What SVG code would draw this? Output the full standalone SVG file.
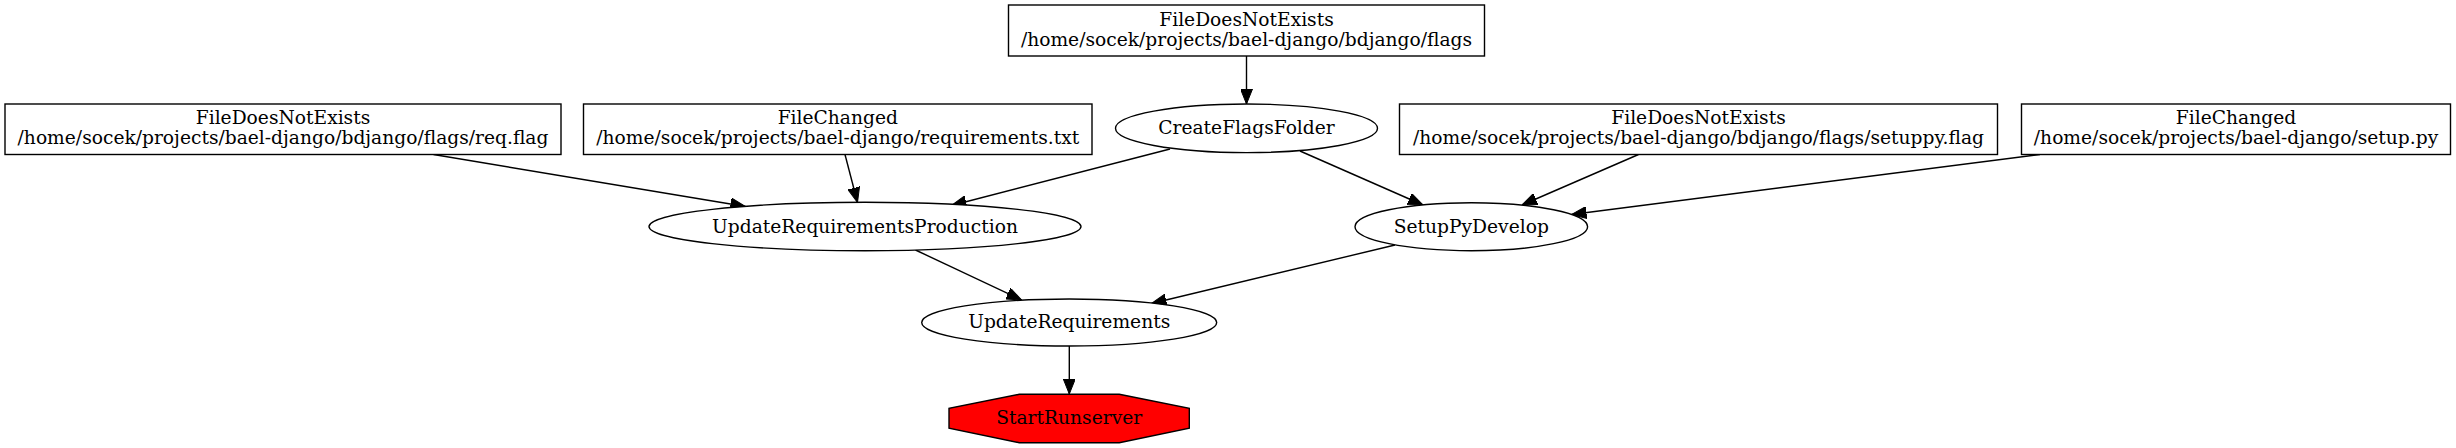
<svg xmlns="http://www.w3.org/2000/svg" width="2456" height="448" viewBox="0 0 2456 448">
<style>
  .box { fill: #ffffff; stroke: #000000; stroke-width: 1.4; }
  .ell { fill: #ffffff; stroke: #000000; stroke-width: 1.4; }
  .stop { fill: #ff0000; stroke: #000000; stroke-width: 1.4; }
  .lbl { font-family: "DejaVu Serif", "Liberation Serif", serif; font-size: 18.67px; fill: #000000; text-anchor: middle; }
  .edge { fill: none; stroke: #000000; stroke-width: 1.4; marker-end: url(#arrow); }
</style>
<defs>
  <marker id="arrow" markerUnits="userSpaceOnUse" viewBox="0 0 15 12" markerWidth="15" markerHeight="12" refX="15" refY="6" orient="auto">
    <path d="M0,0 L15,6 L0,12 z" fill="#000000" stroke="#000000" stroke-width="1"/>
  </marker>
</defs>
<rect width="2456" height="448" fill="#ffffff"/>

<g id="connectors">
  <path class="edge" d="M1246.5,56 L1246.5,104"/>
  <path class="edge" d="M433.5,154.5 L745.5,206.5"/>
  <path class="edge" d="M845,154.5 L857.5,202.5"/>
  <path class="edge" d="M1170,149 L951.5,205.5"/>
  <path class="edge" d="M1300,151 L1423,205"/>
  <path class="edge" d="M1638.5,154.5 L1522,205"/>
  <path class="edge" d="M2040,154.5 L1571.5,214.5"/>
  <path class="edge" d="M915.5,250 L1021.5,300"/>
  <path class="edge" d="M1395,245 L1151.5,303.5"/>
  <path class="edge" d="M1069.3,346 L1069.3,394"/>
</g>

<g id="node-flags">
  <rect class="box" x="1008.5" y="5" width="476" height="51"/>
  <text class="lbl" x="1246.5" y="26">FileDoesNotExists</text>
  <text class="lbl" x="1246.5" y="45.5">/home/socek/projects/bael-django/bdjango/flags</text>
</g>

<g id="node-reqflag">
  <rect class="box" x="5" y="104" width="556" height="50.5"/>
  <text class="lbl" x="283" y="124">FileDoesNotExists</text>
  <text class="lbl" x="283" y="143.5">/home/socek/projects/bael-django/bdjango/flags/req.flag</text>
</g>

<g id="node-reqtxt">
  <rect class="box" x="583.5" y="104" width="508.5" height="50.5"/>
  <text class="lbl" x="837.8" y="124">FileChanged</text>
  <text class="lbl" x="837.8" y="143.5">/home/socek/projects/bael-django/requirements.txt</text>
</g>

<g id="node-createflags">
  <ellipse class="ell" cx="1246.5" cy="128.3" rx="131" ry="24.3"/>
  <text class="lbl" x="1246.5" y="133.5">CreateFlagsFolder</text>
</g>

<g id="node-setuppyflag">
  <rect class="box" x="1399.5" y="104" width="598" height="50.5"/>
  <text class="lbl" x="1698.5" y="124">FileDoesNotExists</text>
  <text class="lbl" x="1698.5" y="143.5">/home/socek/projects/bael-django/bdjango/flags/setuppy.flag</text>
</g>

<g id="node-setuppy">
  <rect class="box" x="2021.5" y="104" width="429" height="50.5"/>
  <text class="lbl" x="2236" y="124">FileChanged</text>
  <text class="lbl" x="2236" y="143.5">/home/socek/projects/bael-django/setup.py</text>
</g>

<g id="node-updreqprod">
  <ellipse class="ell" cx="865" cy="226.5" rx="216" ry="24.2"/>
  <text class="lbl" x="865" y="232.7">UpdateRequirementsProduction</text>
</g>

<g id="node-setuppydevelop">
  <ellipse class="ell" cx="1471.3" cy="226.7" rx="116.3" ry="24"/>
  <text class="lbl" x="1471.3" y="232.7">SetupPyDevelop</text>
</g>

<g id="node-updreq">
  <ellipse class="ell" cx="1069.2" cy="322.5" rx="147.5" ry="23.5"/>
  <text class="lbl" x="1069.2" y="328.3">UpdateRequirements</text>
</g>

<g id="node-startrunserver">
  <polygon class="stop" points="1019.3,394.3 1119.3,394.3 1189.3,408.3 1189.3,428.3 1119.3,442.7 1019.3,442.7 949,428.3 949,408.3"/>
  <text class="lbl" x="1069.2" y="423.5">StartRunserver</text>
</g>
</svg>
